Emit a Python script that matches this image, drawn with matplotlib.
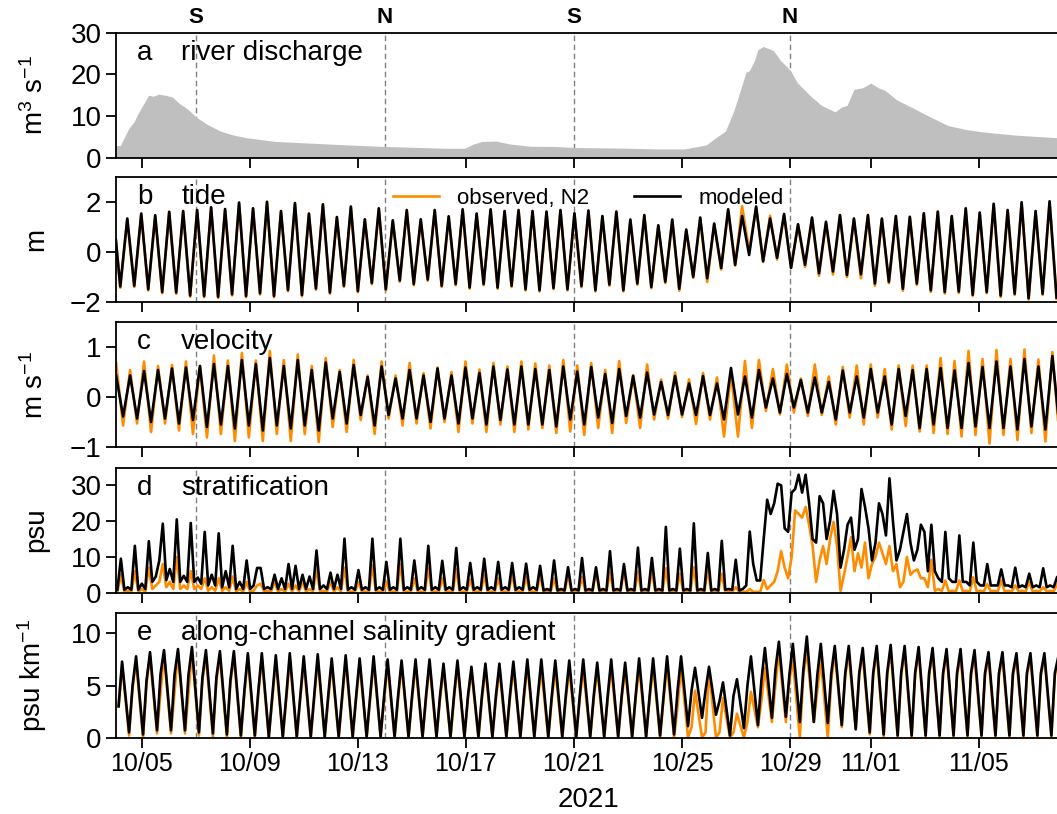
import numpy as np
import pandas as pd
import matplotlib
matplotlib.use('Agg')
import matplotlib.pyplot as plt
import matplotlib.dates as mdates
import matplotlib.transforms as mtransforms

plt.rcParams['font.family'] = ['Liberation Sans', 'DejaVu Sans']
plt.rcParams['mathtext.default'] = 'regular'

DAY0 = pd.Timestamp('2021-10-05')
T_M2 = 12.42 / 24.0          # semidiurnal period in days

# ---------------- river discharge (m3 s-1), days after 10/05 ----------------
q_day = [-0.95, -0.80, -0.67, -0.48, -0.29, -0.16, 0.10, 0.25, 0.42, 0.61,
         0.86, 1.12, 1.37, 1.69, 2.01, 2.39, 2.90, 3.41, 3.92, 4.94,
         6.22, 7.50, 8.77, 10.04, 11.32, 11.96, 12.28, 12.60, 13.11, 13.62,
         14.38, 15.27, 16.03, 17.80, 19.07, 20.09, 20.60, 20.91, 21.17, 21.61,
         21.93, 22.37, 22.50, 22.69, 22.81, 23.01, 23.39, 23.64, 23.83, 24.02,
         24.27, 24.78, 25.16, 25.67, 25.92, 26.11, 26.37, 26.69, 27.00, 27.26,
         27.51, 27.95, 28.59, 29.22, 29.86, 30.49, 31.12, 32.39, 33.89]
q_val = [2.9, 2.9, 4.6, 7.1, 8.6, 10.4, 13.3, 15.0, 14.75, 15.25,
         15.0, 14.6, 13.1, 11.7, 9.75, 8.1, 6.4, 5.4, 4.75, 3.9,
         3.5, 3.1, 2.75, 2.5, 2.25, 2.25, 3.3, 3.9, 4.0, 3.3,
         2.75, 2.7, 2.45, 2.3, 2.1, 2.1, 2.7, 3.1, 4.4, 6.4,
         11.4, 20.5, 20.9, 23.4, 25.9, 26.7, 25.7, 23.4, 22.2, 20.9,
         18.0, 14.7, 12.6, 11.0, 12.2, 12.5, 16.4, 16.8, 17.9, 16.8,
         16.2, 13.9, 11.8, 9.7, 7.7, 6.8, 6.2, 5.4, 4.8]

# ---------------- tide (m): high waters, and the low water before each ----------------
tide_t0 = -0.541             # first high water
tide_lead = (-0.82, 0.5)     # (cycle phase, value) at the left edge
tide_mod_hi = [1.34, 1.54, 1.47, 1.61, 1.64, 1.68, 1.79, 1.72, 1.98, 1.75,
               2.01, 1.64, 1.96, 1.54, 1.91, 1.40, 1.82, 1.31, 1.75, 1.27,
               1.68, 1.31, 1.68, 1.43, 1.71, 1.54, 1.71, 1.64, 1.68, 1.64,
               1.62, 1.68, 1.55, 1.66, 1.44, 1.62, 1.30, 1.48, 1.07, 1.30,
               0.90, 1.38, 1.14, 1.71, 1.44, 1.82, 1.34, 1.52, 1.11, 1.38,
               1.21, 1.48, 1.34, 1.48, 1.34, 1.44, 1.41, 1.55, 1.62, 1.44,
               1.75, 1.58, 1.93, 1.68, 1.99, 1.64, 2.03]
tide_mod_lo = [-1.38, -1.35, -1.49, -1.60, -1.62, -1.74, -1.76, -1.79, -1.69, -1.76,
               -1.65, -1.76, -1.52, -1.72, -1.46, -1.62, -1.35, -1.56, -1.24, -1.49,
               -1.14, -1.28, -1.10, -1.35, -1.28, -1.42, -1.28, -1.42, -1.35, -1.49,
               -1.53, -1.44, -1.49, -1.36, -1.53, -1.30, -1.53, -1.26, -1.40, -1.19,
               -1.47, -0.99, -1.05, -0.64, -0.51, -0.12, -0.37, -0.23, -0.64, -0.51,
               -0.85, -0.78, -0.92, -0.89, -1.26, -1.19, -1.47, -1.26, -1.53, -1.60,
               -1.58, -1.71, -1.60, -1.74, -1.67, -1.85, -1.67, -1.82]
tide_obs_hi = [1.30, 1.50, 1.43, 1.57, 1.60, 1.64, 1.75, 1.68, 1.94, 1.71,
               1.97, 1.60, 1.92, 1.50, 1.87, 1.36, 1.78, 1.27, 1.71, 1.23,
               1.64, 1.27, 1.64, 1.39, 1.67, 1.50, 1.67, 1.60, 1.64, 1.60,
               1.58, 1.64, 1.51, 1.62, 1.40, 1.58, 1.26, 1.44, 1.03, 1.26,
               0.86, 1.34, 1.10, 1.67, 1.83, 1.78, 1.45, 1.48, 1.07, 1.34,
               1.17, 1.44, 1.30, 1.44, 1.30, 1.40, 1.37, 1.51, 1.58, 1.40,
               1.71, 1.54, 1.89, 1.64, 1.95, 1.60, 1.99]
tide_obs_lo = [-1.43, -1.40, -1.54, -1.65, -1.67, -1.79, -1.81, -1.84, -1.74, -1.81,
               -1.70, -1.81, -1.57, -1.77, -1.51, -1.67, -1.40, -1.61, -1.29, -1.54,
               -1.19, -1.33, -1.15, -1.40, -1.33, -1.47, -1.33, -1.47, -1.40, -1.54,
               -1.58, -1.49, -1.54, -1.41, -1.58, -1.35, -1.58, -1.31, -1.45, -1.24,
               -1.55, -1.04, -1.20, -0.70, -0.55, 0.05, -0.40, -0.30, -0.62, -0.60,
               -0.95, -0.90, -1.00, -1.05, -1.35, -1.25, -1.55, -1.32, -1.60, -1.66,
               -1.64, -1.76, -1.65, -1.80, -1.72, -1.90, -1.72, -1.87]

# ---------------- velocity (m s-1): flood peaks, and the ebb trough before each ----------------
vel_t0 = -0.437
vel_mod_lead = (-1.0, 0.43)
vel_obs_lead = (-1.0, 0.68)
vel_mod_hi = [0.43, 0.52, 0.54, 0.57, 0.59, 0.62, 0.66, 0.62, 0.74, 0.66,
              0.78, 0.62, 0.74, 0.54, 0.69, 0.50, 0.64, 0.40, 0.61, 0.37,
              0.54, 0.43, 0.57, 0.43, 0.59, 0.48, 0.61, 0.55, 0.61,
              0.56, 0.54, 0.61, 0.51, 0.60, 0.46, 0.56, 0.42, 0.49, 0.30,
              0.42, 0.27, 0.42, 0.27, 0.58, 0.41, 0.54, 0.37, 0.46, 0.34,
              0.39, 0.30, 0.53, 0.41, 0.56, 0.41, 0.56, 0.54, 0.56, 0.58,
              0.53, 0.68, 0.60, 0.71, 0.61, 0.76, 0.61, 0.82]
vel_mod_lo = [-0.39, -0.43, -0.50, -0.43, -0.53, -0.46, -0.60, -0.55, -0.63, -0.57,
              -0.67, -0.57, -0.63, -0.57, -0.67, -0.43, -0.53, -0.36, -0.57, -0.36,
              -0.43, -0.43, -0.50, -0.43, -0.53, -0.43, -0.55, -0.46, -0.55,
              -0.55, -0.55, -0.59, -0.45, -0.55, -0.41, -0.52, -0.38, -0.41, -0.35,
              -0.36, -0.35, -0.36, -0.36, -0.45, -0.35, -0.41, -0.21, -0.31, -0.21,
              -0.31, -0.31, -0.45, -0.31, -0.41, -0.31, -0.55, -0.38, -0.62, -0.55,
              -0.62, -0.62, -0.59, -0.62, -0.62, -0.65, -0.59, -0.65, -0.60]
vel_obs_hi = [0.54, 0.71, 0.62, 0.64, 0.71, 0.62, 0.83, 0.73, 0.88, 0.73,
              0.92, 0.74, 0.85, 0.62, 0.78, 0.54, 0.74, 0.43, 0.71, 0.43,
              0.68, 0.48, 0.59, 0.50, 0.71, 0.55, 0.68, 0.61, 0.71,
              0.67, 0.63, 0.74, 0.63, 0.68, 0.54, 0.72, 0.44, 0.65, 0.35,
              0.49, 0.35, 0.48, 0.39, 0.48, 0.72, 0.74, 0.56, 0.65, 0.37,
              0.65, 0.41, 0.60, 0.63, 0.65, 0.56, 0.63, 0.63, 0.63, 0.78,
              0.72, 0.92, 0.76, 0.94, 0.76, 0.95, 0.75, 0.90]
vel_obs_lo = [-0.57, -0.53, -0.70, -0.53, -0.67, -0.74, -0.81, -0.74, -0.88, -0.81,
              -0.88, -0.74, -0.88, -0.74, -0.90, -0.60, -0.70, -0.46, -0.74, -0.43,
              -0.57, -0.53, -0.63, -0.50, -0.70, -0.53, -0.70, -0.55, -0.70,
              -0.65, -0.62, -0.72, -0.69, -0.76, -0.62, -0.72, -0.52, -0.62, -0.45,
              -0.43, -0.40, -0.54, -0.45, -0.79, -0.79, -0.62, -0.28, -0.35, -0.31,
              -0.38, -0.36, -0.55, -0.41, -0.55, -0.41, -0.65, -0.58, -0.69, -0.72,
              -0.74, -0.79, -0.76, -0.93, -0.76, -0.86, -0.72, -0.89, -0.80]

# ---------------- stratification (psu), sampled every quarter cycle ----------------
# first value sits a quarter cycle before the first peak
strat_t0 = -0.778
strat_mod = [0.8,
    9.5, 0.8, 1.5, 0.8,  13.1, 0.8, 2.5, 1.0,  14.4, 3.0, 4.5, 9.0,  19.3, 3.5, 6.6, 3.0,
    20.5, 3.0, 4.7, 3.0,  19.5, 3.0, 4.2, 2.5,  17.0, 2.0, 5.0, 2.0,  16.6, 1.5, 6.0, 1.5,
    13.1, 1.0, 3.0, 1.0,  9.0, 1.0, 2.0, 6.9,  6.9, 1.0, 1.5, 1.0,  5.0, 1.0, 4.0, 1.0,
    8.0, 1.0, 7.5, 1.0,  5.0, 1.0, 4.5, 1.0,  11.8, 1.0, 2.0, 1.0,  5.6, 1.0, 5.0, 1.0,
    15.1, 0.8, 1.5, 0.8,  6.3, 0.8, 1.5, 0.8,  15.1, 0.8, 1.5, 0.8,  8.6, 0.8, 1.5, 0.8,
    15.1, 0.8, 1.5, 0.8,  9.0, 0.8, 1.5, 0.8,  13.1, 0.8, 1.5, 0.8,  8.9, 0.8, 1.5, 0.8,
    12.5, 0.8, 1.5, 0.8,  8.3, 0.8, 1.5, 0.8,  9.5, 0.8, 1.5, 0.8,  8.6, 0.8, 1.5, 0.8,
    8.3, 0.8, 1.5, 0.8,  8.1, 0.8, 1.5, 0.8,  7.5, 0.6, 1.0, 0.6,  9.0, 0.6, 1.0, 0.6,
    7.1, 0.6, 1.0, 0.6,  9.7, 0.6, 1.0, 0.6,  7.1, 0.6, 1.0, 0.6,  11.6, 0.6, 1.0, 0.6,
    8.0, 0.6, 1.0, 0.6,  12.6, 0.6, 1.0, 0.6,  9.7, 0.6, 1.0, 0.6,  18.4, 0.6, 1.0, 0.6,
    12.3, 0.6, 1.0, 0.6,  19.4, 0.6, 1.0, 0.6,  11.1, 0.6, 1.0, 0.6,  14.5, 0.8, 1.0, 0.8,
    9.2, 0.6, 1.0, 2.0,  17.1, 8.0, 3.4, 3.4,  15.0, 26.0, 22.0, 25.0,  30.5, 30.0, 18.0, 17.0,
    28.0, 29.0, 33.0, 28.0,  33.0, 25.0, 15.0, 14.0,  27.0, 25.0, 15.0, 20.0,  28.5, 22.0, 7.0, 12.0,
    19.0, 21.0, 12.0, 15.0,  29.0, 24.0, 18.0, 9.0,  14.0, 25.0, 22.0, 16.0,  32.0, 20.0, 9.0, 12.0,
    17.0, 22.0, 14.0, 9.0,  12.0, 19.0, 17.0, 6.0,  19.0, 6.0, 4.0, 3.0,  17.0, 4.0, 3.0, 3.0,
    16.0, 3.0, 3.0, 2.0,  14.0, 3.0, 2.0, 2.0,  8.0, 2.0, 2.0, 2.0,  6.5, 2.0, 2.0, 1.5,
    7.0, 1.5, 2.0, 1.5,  5.3, 1.5, 2.0, 1.5,  6.8, 1.5, 2.0, 1.5,  4.4, 1.5, 1.5, 1.5]
strat_obs = [0.2,
    5.0, 0.2, 0.5, 0.2,  6.0, 0.2, 1.0, 0.3,  7.0, 1.0, 2.0, 3.0,  8.0, 1.5, 3.0, 1.0,
    10.0, 1.0, 2.0, 1.0,  6.0, 1.0, 2.0, 1.0,  4.0, 0.5, 1.5, 0.5,  4.0, 0.5, 1.5, 0.5,
    4.5, 0.3, 1.0, 0.3,  3.0, 0.3, 0.5, 2.0,  2.5, 0.3, 0.5, 0.3,  3.0, 0.3, 1.0, 0.3,
    2.5, 0.3, 2.0, 0.3,  3.0, 0.3, 1.0, 0.3,  6.6, 0.3, 0.5, 0.3,  3.0, 0.3, 1.5, 0.3,
    7.0, 0.2, 0.3, 0.2,  3.0, 0.2, 0.3, 0.2,  7.6, 0.2, 0.3, 0.2,  3.0, 0.2, 0.3, 0.2,
    8.0, 0.2, 0.3, 0.2,  4.0, 0.2, 0.3, 0.2,  7.0, 0.2, 0.3, 0.2,  4.0, 0.2, 0.3, 0.2,
    6.5, 0.2, 0.3, 0.2,  3.7, 0.2, 0.3, 0.2,  5.0, 0.2, 0.3, 0.2,  4.0, 0.2, 0.3, 0.2,
    5.0, 0.2, 0.3, 0.2,  4.4, 0.2, 0.3, 0.2,  4.8, 0.2, 0.3, 0.2,  3.9, 0.2, 0.3, 0.2,
    5.0, 0.2, 0.3, 0.2,  4.4, 0.2, 0.3, 0.2,  5.8, 0.2, 0.3, 0.2,  5.8, 0.2, 0.3, 0.2,
    6.1, 0.2, 0.3, 0.2,  5.8, 0.2, 0.3, 0.2,  6.1, 0.2, 0.3, 0.2,  6.8, 0.2, 0.3, 0.2,
    5.3, 0.2, 0.3, 0.2,  7.1, 0.2, 0.3, 0.2,  6.3, 0.2, 0.3, 0.2,  5.3, 0.2, 0.3, 0.2,
    1.5, 0.2, 0.3, 0.2,  1.0, 0.2, 0.2, 0.2,  3.5, 1.0, 2.0, 3.0,  6.0, 11.6, 7.0, 4.0,
    10.0, 23.0, 22.0, 21.0,  24.0, 19.0, 13.0, 3.0,  9.0, 13.0, 8.0, 15.0,  19.8, 13.0, 0.5, 5.0,
    10.0, 15.5, 6.0, 11.0,  7.0, 14.0, 4.0, 8.0,  10.0, 14.0, 11.0, 8.0,  13.0, 6.0, 8.0, 1.5,
    3.0, 10.0, 5.0, 6.0,  6.5, 4.0, 4.0, 1.5,  9.2, 0.5, 1.0, 0.5,  3.4, 0.3, 0.5, 0.3,
    3.4, 0.3, 0.5, 0.3,  4.3, 0.3, 0.5, 0.3,  2.4, 0.3, 0.5, 0.3,  3.4, 0.3, 0.5, 0.3,
    2.0, 0.3, 0.5, 0.3,  2.9, 0.3, 0.5, 0.3,  1.5, 0.3, 0.5, 0.3,  2.4, 0.3, 0.5, 0.3]

# ---------------- along-channel salinity gradient (psu km-1) ----------------
# per cycle: peak, trough half a cycle later, value on the rise 3/4 cycle later
grad_t0 = -0.733
grad_lead = 3.0
grad_mod_hi = [7.3, 7.8, 8.2, 8.4, 8.5, 8.7, 8.4, 8.3, 8.3, 8.1,
               8.1, 7.9, 8.1, 7.8, 8.0, 7.6, 7.9, 7.6, 7.8, 7.5,
               7.4, 7.5, 7.5, 7.1, 7.4, 6.8, 7.1, 7.1, 7.3, 7.5,
               7.5, 7.4, 7.4, 7.5, 7.2, 7.5, 7.2, 7.6, 7.6, 7.8,
               7.8, 6.7, 6.8, 5.3, 5.6, 7.8, 8.6, 9.2, 9.0, 9.7,
               9.0, 8.8, 8.8, 8.6, 8.8, 8.9, 8.8, 8.7, 8.6, 8.5,
               8.5, 8.4, 8.2, 8.2, 8.1, 8.1, 8.1, 7.8]
grad_mod_lo = [0.5, 0.3, 0.7, 0.7, 0.7, 0.5, 0.4, 0.3, 0.2, 0.2,
               0.1, 0.1, 0.1, 0.1, 0.1, 0.1, 0.1, 0.1, 0.1, 0.1,
               0.1, 0.1, 0.1, 0.1, 0.1, 0.1, 0.1, 0.1, 0.1, 0.1,
               0.1, 0.1, 0.1, 0.1, 0.1, 0.1, 0.1, 0.1, 0.2, 0.3,
               1.1, 1.9, 2.2, 0.2, 0.9, 1.2, 1.9, 2.0, 1.5, 1.5,
               1.4, 1.2, 0.8, 0.5, 0.3, 0.2, 0.2, 0.2, 0.2, 0.2,
               0.2, 0.2, 0.2, 0.2, 0.2, 0.2, 0.2, 0.2]
grad_mod_sh = [5.0, 5.5, 6.1, 6.0, 6.0, 5.8, 5.8, 5.5, 4.5, 4.5,
               4.0, 4.0, 4.0, 4.0, 4.0, 4.0, 4.0, 4.0, 4.0, 4.0,
               4.0, 4.0, 4.0, 4.0, 4.0, 4.0, 4.0, 4.0, 4.0, 4.0,
               4.0, 4.0, 4.0, 4.0, 4.0, 4.0, 4.0, 4.0, 4.0, 4.5,
               4.5, 4.5, 3.5, 4.0, 5.0, 5.5, 6.5, 6.0, 6.5, 6.0,
               6.2, 6.2, 6.2, 6.2, 6.2, 6.2, 6.2, 6.2, 6.2, 6.2,
               6.2, 6.2, 6.2, 6.2, 6.2, 6.2, 6.2, 6.2]
grad_obs_hi = [7.0, 7.3, 7.8, 8.0, 8.2, 8.2, 7.8, 7.8, 7.8, 7.6,
               7.6, 7.4, 7.6, 7.2, 7.5, 7.1, 7.4, 7.1, 7.3, 7.0,
               6.9, 7.0, 7.0, 6.6, 6.9, 6.4, 6.6, 6.5, 6.8, 7.0,
               6.6, 6.6, 6.6, 6.6, 6.6, 6.7, 6.6, 6.9, 6.9, 7.0,
               6.8, 4.5, 6.5, 3.8, 2.3, 4.4, 6.7, 8.3, 7.4, 8.3,
               7.5, 8.2, 8.0, 8.0, 8.2, 8.3, 8.2, 8.2, 8.0, 8.0,
               7.8, 7.8, 7.6, 7.6, 7.5, 7.6, 7.6, 7.4]
grad_obs_lo = [0.2, 0.0, 0.4, 0.4, 0.4, 0.2, 0.1, 0.0, 0.0, 0.0,
               0.0, 0.0, 0.0, 0.0, 0.0, 0.0, 0.0, 0.0, 0.0, 0.0,
               0.0, 0.0, 0.0, 0.0, 0.0, 0.0, 0.0, 0.0, 0.0, 0.0,
               0.0, 0.0, 0.0, 0.0, 0.0, 0.0, 0.0, 0.0, 0.0, 0.0,
               0.0, 0.0, 0.0, 0.0, 0.0, 1.0, 1.5, 1.5, 0.0, 1.5,
               0.0, 1.0, 0.8, 0.3, 0.1, 0.1, 0.1, 0.1, 0.1, 0.1,
               0.1, 0.1, 0.1, 0.1, 0.1, 0.1, 0.1, 0.1]
grad_obs_sh = [4.7, 5.2, 4.3, 4.3, 4.3, 5.5, 5.5, 5.2, 4.2, 4.2,
               3.7, 3.7, 3.7, 3.7, 3.7, 3.7, 3.7, 3.7, 3.7, 3.7,
               3.7, 3.7, 3.7, 3.7, 3.7, 3.7, 3.7, 3.7, 3.7, 3.7,
               3.7, 3.7, 3.7, 3.7, 3.7, 3.7, 3.7, 3.7, 3.7, 3.0,
               1.0, 0.5, 0.5, 0.5, 1.5, 3.5, 5.0, 5.5, 6.0, 4.5,
               5.5, 6.0, 6.0, 6.0, 6.0, 6.0, 6.0, 6.0, 6.0, 6.0,
               6.0, 6.0, 6.0, 6.0, 6.0, 6.0, 6.0, 6.0]

# ---------------- axes annotation ----------------
x_start, x_end = '2021-10-04 01:00', '2021-11-08 00:00'
tick_dates = ['2021-10-05', '2021-10-09', '2021-10-13', '2021-10-17', '2021-10-21',
              '2021-10-25', '2021-10-29', '2021-11-01', '2021-11-05']
sn_dates = ['2021-10-07', '2021-10-14', '2021-10-21', '2021-10-29']
sn_labels = ['S', 'N', 'S', 'N']
panel_letters = ['a', 'b', 'c', 'd', 'e']
panel_names = ['river discharge', 'tide', 'velocity', 'stratification',
               'along-channel salinity gradient']
ylabels = ['m$^3$ s$^{-1}$', 'm', 'm s$^{-1}$', 'psu', 'psu km$^{-1}$']
ylims = [(0, 30), (-2, 3), (-1, 1.5), (0, 35), (0, 12)]
yticks = [[0, 10, 20, 30], [-2, 0, 2], [-1, 0, 1], [0, 10, 20, 30], [0, 5, 10]]

ORANGE = '#ff8c00'


def to_time(d):
    return DAY0 + pd.to_timedelta(np.asarray(d, float), unit='D')


def hilo_series(t0, hi, lo, lead=None):
    # low k sits half a cycle before high k
    ph, val = [], []
    if lead is not None:
        ph.append(lead[0]); val.append(lead[1])
    for k, y in enumerate(lo):
        ph.append(k - 0.5); val.append(y)
        if k < len(hi):
            ph.append(k); val.append(hi[k])
    return to_time(t0 + np.array(ph) * T_M2), np.array(val)


def quarter_series(t0, vals):
    ph = (np.arange(len(vals)) - 1) * 0.25
    return to_time(t0 + ph * T_M2), np.array(vals)


def grad_series(t0, hi, lo, sh, lead):
    ph, val = [-0.25], [lead]
    for k in range(len(hi)):
        ph += [k, k + 0.5, k + 0.75]
        val += [hi[k], lo[k], sh[k]]
    return to_time(t0 + np.array(ph) * T_M2), np.array(val)


W, H = 1057, 814
fig = plt.figure(figsize=(W / 100, H / 100), dpi=100)
tops = [32.7, 177.0, 322.0, 467.6, 612.6]
ax_h = 125.0
left_px, right_px = 116.0, 1060.0
axes = []
for i, top in enumerate(tops):
    ax = fig.add_axes([left_px / W, 1 - (top + ax_h) / H, (right_px - left_px) / W, ax_h / H],
                      sharex=axes[0] if axes else None)
    axes.append(ax)

line_kw = dict(lw=1.9, solid_joinstyle='round')
# a: discharge
t_q = to_time(q_day)
axes[0].fill_between(t_q, q_val, 0, color='#bfbfbf', lw=0)

# b: tide
t, v = hilo_series(tide_t0, tide_obs_hi, tide_obs_lo, tide_lead)
axes[1].plot(t, v, color=ORANGE, label='observed, N2', **line_kw)
t, v = hilo_series(tide_t0, tide_mod_hi, tide_mod_lo, tide_lead)
axes[1].plot(t, v, color='black', label='modeled', **line_kw)

# c: velocity
t, v = hilo_series(vel_t0, vel_obs_hi, vel_obs_lo, vel_obs_lead)
axes[2].plot(t, v, color=ORANGE, **line_kw)
t, v = hilo_series(vel_t0, vel_mod_hi, vel_mod_lo, vel_mod_lead)
axes[2].plot(t, v, color='black', **line_kw)

# d: stratification
t, v = quarter_series(strat_t0, strat_obs)
axes[3].plot(t, v, color=ORANGE, **line_kw)
t, v = quarter_series(strat_t0, strat_mod)
axes[3].plot(t, v, color='black', **line_kw)

# e: salinity gradient
t, v = grad_series(grad_t0, grad_obs_hi, grad_obs_lo, grad_obs_sh, grad_lead)
axes[4].plot(t, v, color=ORANGE, **line_kw)
t, v = grad_series(grad_t0, grad_mod_hi, grad_mod_lo, grad_mod_sh, grad_lead)
axes[4].plot(t, v, color='black', **line_kw)

for i, ax in enumerate(axes):
    ax.set_ylim(*ylims[i])
    ax.set_yticks(yticks[i])
    ax.set_ylabel(ylabels[i], fontsize=20)
    ax.yaxis.set_label_coords(-0.071, 0.5)
    ax.tick_params(direction='out', length=7, width=1.3, labelsize=20)
    for s in ax.spines.values():
        s.set_linewidth(1.3)
    for d in sn_dates:
        ax.axvline(pd.Timestamp(d), color='#808080', lw=1.0, ls=(0, (4, 2.5)), zorder=0.5)
    ax.text(0.022, 0.84, panel_letters[i], transform=ax.transAxes, fontsize=20, va='center')
    ax.text(0.069, 0.84, panel_names[i], transform=ax.transAxes, fontsize=20, va='center')
    if i < 4:
        ax.tick_params(labelbottom=False)

axes[0].set_xlim(pd.Timestamp(x_start), pd.Timestamp(x_end))
axes[-1].set_xticks([pd.Timestamp(d) for d in tick_dates])
axes[-1].xaxis.set_major_formatter(mdates.DateFormatter('%m/%d'))
axes[-1].tick_params(axis='x', labelsize=18)
axes[-1].set_xlabel('2021', fontsize=20, labelpad=8)

trans = mtransforms.blended_transform_factory(axes[0].transData, axes[0].transAxes)
for d, s in zip(sn_dates, sn_labels):
    axes[0].text(pd.Timestamp(d), 1.04, s, transform=trans, ha='center', va='bottom',
                 fontsize=16, fontweight='bold')

axes[1].legend(loc='upper center', bbox_to_anchor=(0.5, 1.02), ncol=2, frameon=False,
               fontsize=16, handlelength=2.1, handletextpad=0.8, columnspacing=2.0,
               borderaxespad=0.2)

fig.savefig('out.png', dpi=100)
